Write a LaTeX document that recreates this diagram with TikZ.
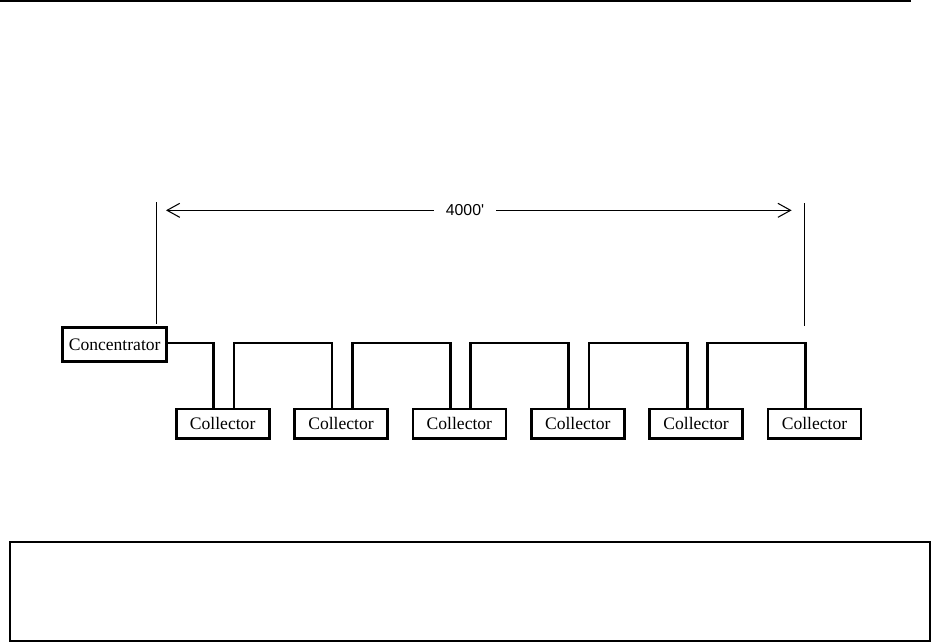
\documentclass[tikz,border=0pt]{standalone}
\usepackage{fontspec}
\setmainfont{Liberation Serif}
\newfontfamily\dimfont{Liberation Sans}
\usepackage{tikz}
\usetikzlibrary{arrows.meta,positioning}
\definecolor{figline}{RGB}{0,0,0}
\tikzset{
  box/.style    ={draw=figline, line width=2.3pt, font=\fontsize{15}{17}\selectfont, inner sep=0pt, minimum height=0.88cm},
  colbox/.style ={box, minimum width=2.79cm},
  bus/.style    ={draw=figline, line width=2.4pt, line join=miter},
  dim/.style    ={draw=figline, line width=0.9pt},
  dimarr/.style ={dim, -{Straight Barb[length=0.38cm,width=0.42cm]}},
  dimlab/.style ={font=\dimfont\fontsize{13.5}{15}\selectfont, inner xsep=0.36cm, inner ysep=1pt},
  rule/.style   ={draw=figline, line width=0.9pt},
}

\begin{document}
\begin{tikzpicture}
  \useasboundingbox (0,0) rectangle (27.96,19.29);
  \draw[rule] (0,19.26) -- (27.33,19.26);
  \draw[rule] (0.3,0.06) rectangle (27.9,3.03);
  \node[box, minimum width=3.12cm, minimum height=1.01cm] (conc) at (3.44,8.96) {Concentrator};
  \node[colbox] (col1) at (6.68,6.58) {Collector};
  \node[colbox, right=0.68cm of col1] (col2) {Collector};
  \node[colbox, right=0.68cm of col2] (col3) {Collector};
  \node[colbox, right=0.68cm of col3] (col4) {Collector};
  \node[colbox, right=0.68cm of col4] (col5) {Collector};
  \node[colbox, right=0.68cm of col5] (col6) {Collector};
  \draw[bus] ([yshift=0.04cm]conc.east) -| ([xshift=-0.27cm]col1.north);
  \draw[bus] ([xshift=0.34cm]col1.north) -- ++(0,1.94) -| ([xshift=-0.27cm]col2.north);
  \draw[bus] ([xshift=0.34cm]col2.north) -- ++(0,1.94) -| ([xshift=-0.27cm]col3.north);
  \draw[bus] ([xshift=0.34cm]col3.north) -- ++(0,1.94) -| ([xshift=-0.27cm]col4.north);
  \draw[bus] ([xshift=0.34cm]col4.north) -- ++(0,1.94) -| ([xshift=-0.27cm]col5.north);
  \draw[bus] ([xshift=0.34cm]col5.north) -- ++(0,1.94) -| ([xshift=-0.27cm]col6.north);
  \coordinate (dl0) at (4.70,9.57);
  \coordinate (dl1) at (4.70,13.24);
  \coordinate (dr0) at (24.13,9.52);
  \coordinate (dr1) at (24.13,13.19);
  \draw[dim] (dl0) -- (dl1);
  \draw[dim] (dr0) -- (dr1);
  \node[dimlab] (len) at (13.95,12.98) {4000\textquotesingle};
  \coordinate (al) at (4.98,12.98);
  \coordinate (ar) at (23.75,12.98);
  \draw[dimarr] (len.west) -- (al);
  \draw[dimarr] (len.east) -- (ar);
\end{tikzpicture}
\end{document}
